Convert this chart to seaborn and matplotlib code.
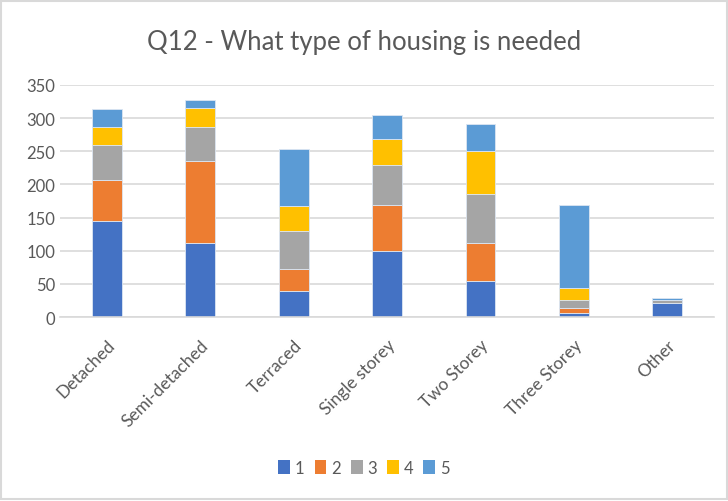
import numpy as np
import pandas as pd
import matplotlib.pyplot as plt
import seaborn as sns
from matplotlib.patches import Patch, Rectangle

categories = ["Detached", "Semi-detached", "Terraced", "Single storey",
              "Two Storey", "Three Storey", "Other"]
r1 = [145, 111, 39, 100, 54, 6, 21]
r2 = [62, 124, 33, 69, 57, 8, 0]
r3 = [53, 51, 58, 61, 74, 12, 5]
r4 = [26, 29, 37, 38, 65, 18, 0]
r5 = [28, 12, 86, 36, 41, 125, 2]
series = ["1", "2", "3", "4", "5"]
colors = ["#4472C4", "#ED7D31", "#A5A5A5", "#FFC000", "#5B9BD5"]

df = pd.DataFrame({"category": categories, "1": r1, "2": r2, "3": r3, "4": r4, "5": r5})

sns.set_style("white")
plt.rcParams["font.family"] = ["Lato", "DejaVu Sans"]

fig = plt.figure(figsize=(7.28, 5.02), dpi=100)
ax = fig.add_axes([0.0824, 0.3665, 0.8986, 0.4622])

bottom = np.zeros(len(categories))
for s, c in zip(series, colors):
    sns.barplot(data=df, x="category", y=s, bottom=bottom, color=c, width=0.32,
                edgecolor="#dce6f2", linewidth=0.6, ax=ax, saturation=1)
    bottom = bottom + df[s].values

ax.set_ylim(0, 350)
ax.set_yticks(range(0, 351, 50))
ax.set_xlim(-0.5, len(categories) - 0.5)
ax.yaxis.grid(True, color="#d9d9d9", linewidth=1.2)
ax.set_axisbelow(True)
for sp in ["top", "right", "left"]:
    ax.spines[sp].set_visible(False)
ax.spines["bottom"].set_color("#d9d9d9")
ax.spines["bottom"].set_linewidth(1.2)
ax.set_xlabel("")
ax.set_ylabel("")
ax.tick_params(axis="both", length=0, colors="#595959", labelsize=12)
ax.tick_params(axis="x", pad=14, labelsize=12.5)
plt.setp(ax.get_xticklabels(), rotation=45, ha="right", rotation_mode="anchor")

fig.text(0.5, 0.915, "Q12 - What type of housing is needed", ha="center", va="center",
         fontsize=18.5, color="#595959")

handles = [Patch(facecolor=c, edgecolor="none") for c in colors]
fig.legend(handles, series, loc="center", bbox_to_anchor=(0.5, 0.066), ncol=5,
           frameon=False, handlelength=0.7, handleheight=0.9, handletextpad=0.3,
           columnspacing=0.6, fontsize=12, labelcolor="#595959")

fig.patches.append(Rectangle((0.002, 0.004), 0.996, 0.992, transform=fig.transFigure,
                             fill=False, edgecolor="#d9d9d9", linewidth=1.5))

fig.savefig("out.png", dpi=100)
